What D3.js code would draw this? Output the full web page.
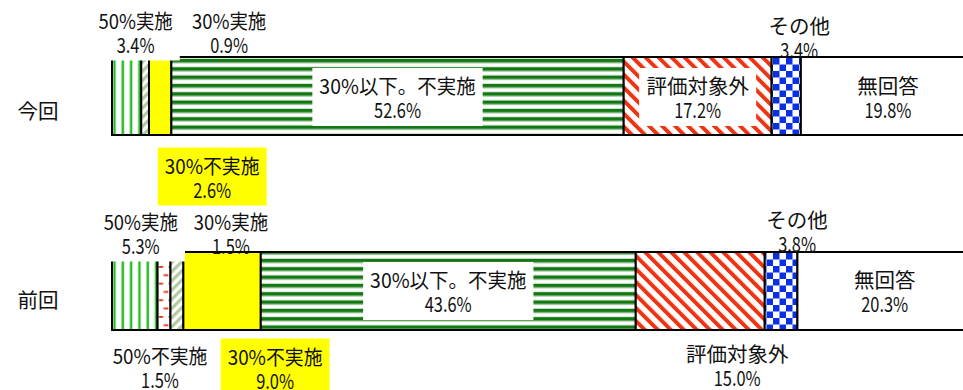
<!DOCTYPE html>
<html>
<head>
<meta charset="utf-8">
<script src="https://cdn.jsdelivr.net/npm/d3@7"></script>
<style>
  html, body { margin: 0; padding: 0; background: #fff; }
  svg { display: block; }
  text { font-family: "Noto Sans CJK JP", sans-serif; font-size: 20.5px; fill: #111; }
</style>
</head>
<body>
<svg id="chart" width="963" height="390"></svg>
<script>
// Survey answers, percentage of respondents per answer
const categories = ["今回", "前回"];
const seriesNames = ["50%実施", "50%不実施", "30%実施", "30%不実施", "30%以下。不実施", "評価対象外", "その他", "無回答"];
const valuesCurrent = [3.4, 0.0, 0.9, 2.6, 52.6, 17.2, 3.4, 19.8];
const valuesPrevious = [5.3, 1.5, 1.5, 9.0, 43.6, 15.0, 3.8, 20.3];

// Placement of each data label relative to its segment
const labelLayout = {
  "今回": {
    "50%実施":        { pos: "above",  dx: 9,  dy: -37.5, box: "#ffffff" },
    "30%実施":        { pos: "above",  dx: 84, dy: -37 },
    "30%不実施":      { pos: "below",  dx: 52, dy: 29.5, box: "#ffff00" },
    "30%以下。不実施": { pos: "inside", dx: 0,  dy: -11, box: "#ffffff" },
    "評価対象外":     { pos: "inside", dx: 0,  dy: -11, box: "#ffffff" },
    "その他":         { pos: "above",  dx: 13, dy: -32.5 },
    "無回答":         { pos: "inside", dx: 2,  dy: -11 }
  },
  "前回": {
    "50%実施":        { pos: "above",  dx: 6,  dy: -31.5, box: "#ffffff" },
    "50%不実施":      { pos: "below",  dx: -4, dy: 24.5 },
    "30%実施":        { pos: "above",  dx: 54, dy: -31.5 },
    "30%不実施":      { pos: "below",  dx: 53, dy: 25.5, box: "#ffff00" },
    "30%以下。不実施": { pos: "inside", dx: 0,  dy: -12, box: "#ffffff" },
    "評価対象外":     { pos: "below",  dx: 37, dy: 23 },
    "その他":         { pos: "above",  dx: 16, dy: -33 },
    "無回答":         { pos: "inside", dx: 0,  dy: -12 }
  }
};
// Vertical nudge of the row titles from the bar centre
const categoryLabelShift = { "今回": 14, "前回": 8 };

const valuesByCategory = { "今回": valuesCurrent, "前回": valuesPrevious };
const table = categories.map(c => {
  const row = { category: c };
  seriesNames.forEach((s, i) => { row[s] = valuesByCategory[c][i]; });
  return row;
});

const svg = d3.select("#chart");
const x = d3.scaleLinear().domain([0, 100]).range([112, 972]);
const y = d3.scaleBand().domain(categories).range([57, 330]).paddingInner(0.6);
const bw = y.bandwidth();

// ---- fill patterns ----
const defs = svg.append("defs");

const pV = defs.append("pattern").attr("id", "p-vline").attr("patternUnits", "userSpaceOnUse")
  .attr("x", 121).attr("width", 8.33).attr("height", 10);
pV.append("rect").attr("width", 8.33).attr("height", 10).attr("fill", "#fff");
pV.append("rect").attr("x", 0).attr("width", 1).attr("height", 10).attr("fill", "#a6dea6");
pV.append("rect").attr("x", 1).attr("width", 2).attr("height", 10).attr("fill", "#1cba1c");

const pD = defs.append("pattern").attr("id", "p-dash").attr("patternUnits", "userSpaceOnUse")
  .attr("x", 158.3).attr("y", 266).attr("width", 10).attr("height", 16.66);
pD.append("rect").attr("width", 10).attr("height", 16.66).attr("fill", "#fff");
pD.append("rect").attr("x", 0.5).attr("y", 0).attr("width", 4.3).attr("height", 1.8).attr("fill", "#ec2a0e");
pD.append("rect").attr("x", 5.3).attr("y", 8.33).attr("width", 4.7).attr("height", 1.8).attr("fill", "#ec2a0e");

const pH = defs.append("pattern").attr("id", "p-hatch").attr("patternUnits", "userSpaceOnUse")
  .attr("width", 6.5).attr("height", 6.5).attr("patternTransform", "rotate(45)");
pH.append("rect").attr("width", 6.5).attr("height", 6.5).attr("fill", "#fff");
pH.append("rect").attr("width", 3.2).attr("height", 6.5).attr("fill", "#b2cba2");

const pS = defs.append("pattern").attr("id", "p-hstripe").attr("patternUnits", "userSpaceOnUse")
  .attr("y", 67.3).attr("width", 10).attr("height", 8.33);
pS.append("rect").attr("width", 10).attr("height", 8.33).attr("fill", "#fff");
pS.append("rect").attr("y", 0).attr("width", 10).attr("height", 3.5).attr("fill", "#127812");
pS.append("rect").attr("y", 3.5).attr("width", 10).attr("height", 1).attr("fill", "#a9c9a9");
pS.append("rect").attr("y", 7.3).attr("width", 10).attr("height", 1).attr("fill", "#d5e5d5");

const pR = defs.append("pattern").attr("id", "p-diag").attr("patternUnits", "userSpaceOnUse")
  .attr("width", 9.2).attr("height", 9.2).attr("patternTransform", "rotate(-45)");
pR.append("rect").attr("width", 9.2).attr("height", 9.2).attr("fill", "#fff");
pR.append("rect").attr("width", 3.9).attr("height", 9.2).attr("fill", "#ee3412");

const pC = defs.append("pattern").attr("id", "p-check").attr("patternUnits", "userSpaceOnUse")
  .attr("x", 773).attr("y", 58).attr("width", 13).attr("height", 13);
pC.append("rect").attr("width", 13).attr("height", 13).attr("fill", "#fff");
pC.append("rect").attr("x", 0).attr("y", 0).attr("width", 6.5).attr("height", 6.5).attr("fill", "#0a30e4");
pC.append("rect").attr("x", 6.5).attr("y", 6.5).attr("width", 6.5).attr("height", 6.5).attr("fill", "#0a30e4");

const seriesFill = ["url(#p-vline)", "url(#p-dash)", "url(#p-hatch)", "#ffff00",
                    "url(#p-hstripe)", "url(#p-diag)", "url(#p-check)", "#ffffff"];

// ---- stacked bars ----
const stacked = d3.stack().keys(seriesNames)(table);

svg.append("g")
  .selectAll("g")
  .data(stacked)
  .join("g")
  .attr("fill", d => seriesFill[d.index])
  .selectAll("rect")
  .data(d => d.filter(p => p[1] - p[0] > 0))
  .join("rect")
  .attr("x", d => x(d[0]))
  .attr("y", d => y(d.data.category))
  .attr("width", d => x(d[1]) - x(d[0]))
  .attr("height", bw)
  .attr("stroke", "#000")
  .attr("stroke-width", 2);

// Writes a line of text; Latin characters (digits, %, .) are set narrower than the kanji.
function writeLine(sel, str) {
  sel.text(str);
  const node = sel.node();
  const full = node.getComputedTextLength();
  let latin = 0;
  for (let i = 0; i < str.length; i++) {
    if (/[\x20-\x7e]/.test(str[i])) latin += node.getSubStringLength(i, 1);
  }
  if (latin > 0) {
    sel.attr("textLength", full - latin * 0.2).attr("lengthAdjust", "spacingAndGlyphs");
  }
  return sel;
}

// ---- category labels ----
svg.append("g")
  .selectAll("text")
  .data(categories)
  .join("text")
  .attr("x", 38)
  .attr("y", c => y(c) + bw / 2 + categoryLabelShift[c])
  .attr("text-anchor", "middle")
  .attr("dominant-baseline", "central")
  .text(c => c);

// ---- data labels ----
const fmt = d3.format(".1f");
const lineGap = 24;
const padX = 7, padY = 7;
const labelG = svg.append("g");

stacked.forEach(layer => {
  layer.forEach(p => {
    const cat = p.data.category;
    const name = layer.key;
    const v = p.data[name];
    const lay = labelLayout[cat][name];
    if (!lay || v <= 0) return;
    const cx = (x(p[0]) + x(p[1])) / 2 + lay.dx;
    const base = lay.pos === "above" ? y(cat)
               : lay.pos === "below" ? y(cat) + bw
               : y(cat) + bw / 2;
    const y1 = base + lay.dy;
    const g = labelG.append("g");
    const box = g.append("rect");
    const lines = [name, fmt(v) + "%"];
    const texts = lines.map((t, i) => writeLine(g.append("text")
      .attr("x", cx)
      .attr("y", y1 + i * lineGap)
      .attr("text-anchor", "middle")
      .attr("dominant-baseline", "central"), t));
    if (lay.box) {
      const w = d3.max(texts, t => t.node().getBBox().width) + 2 * padX;
      const top = y1 - 10 - padY;
      const h = lineGap + 20 + 2 * padY;
      box.attr("x", cx - w / 2).attr("y", top).attr("width", w).attr("height", h).attr("fill", lay.box);
    } else {
      box.remove();
    }
  });
});
</script>
</body>
</html>
